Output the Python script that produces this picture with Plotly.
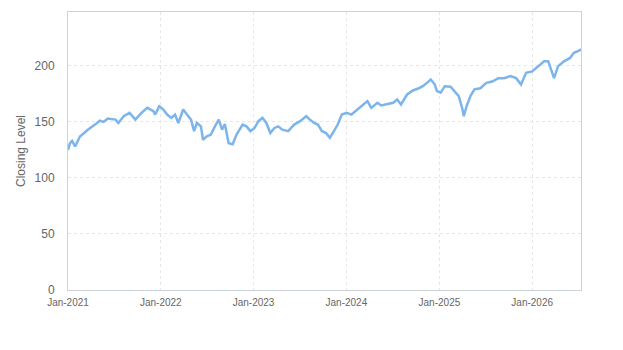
import plotly.graph_objects as go

dates = [
    "2021-01-01", "2021-01-09", "2021-01-17", "2021-01-29", "2021-02-17", "2021-03-04", "2021-03-20",
    "2021-04-20", "2021-05-06", "2021-05-21", "2021-06-06", "2021-07-07", "2021-07-18", "2021-08-08",
    "2021-08-31", "2021-09-23", "2021-10-17", "2021-11-09", "2021-12-03", "2021-12-10", "2021-12-26",
    "2022-01-11", "2022-01-26", "2022-02-11", "2022-02-26", "2022-03-11", "2022-03-30", "2022-04-14",
    "2022-04-30", "2022-05-12", "2022-05-23", "2022-06-08", "2022-06-16", "2022-07-01", "2022-07-17",
    "2022-08-02", "2022-08-17", "2022-08-30", "2022-09-10", "2022-09-25", "2022-10-11", "2022-10-26",
    "2022-11-19", "2022-12-04", "2022-12-20", "2023-01-05", "2023-01-20", "2023-02-05", "2023-02-20",
    "2023-03-08", "2023-03-24", "2023-04-08", "2023-04-24", "2023-05-17", "2023-06-10", "2023-07-03",
    "2023-07-27", "2023-08-11", "2023-08-27", "2023-09-11", "2023-09-27", "2023-10-13", "2023-10-28",
    "2023-11-13", "2023-11-28", "2023-12-14", "2024-01-02", "2024-01-21", "2024-02-06", "2024-02-29",
    "2024-03-24", "2024-04-08", "2024-05-02", "2024-05-17", "2024-06-10", "2024-07-03", "2024-07-19",
    "2024-08-03", "2024-08-27", "2024-09-19", "2024-10-12", "2024-10-28", "2024-11-13", "2024-11-28",
    "2024-12-14", "2024-12-22", "2025-01-06", "2025-01-22", "2025-02-14", "2025-03-02", "2025-03-18",
    "2025-04-02", "2025-04-07", "2025-04-18", "2025-05-03", "2025-05-19", "2025-06-11", "2025-07-05",
    "2025-07-28", "2025-08-21", "2025-09-13", "2025-10-07", "2025-10-30", "2025-11-18", "2025-12-08",
    "2026-01-01", "2026-01-25", "2026-02-17", "2026-03-05", "2026-03-17", "2026-03-28", "2026-04-13",
    "2026-05-06", "2026-05-30", "2026-06-14", "2026-06-30", "2026-07-12",
]

closing = [
    125, 131, 133, 128, 137, 140, 143,
    148, 151, 150, 153, 152, 149, 155,
    158, 152, 158, 162.5, 159.5, 156.5, 164,
    161, 156.5, 153.5, 156.5, 149, 161, 156.5,
    152, 141.7, 149, 146, 134, 137, 138.7,
    146, 152, 143, 148, 131, 130, 138.7,
    147.6, 146, 141.7, 144.6, 150.6, 153.6, 149,
    140, 144.6, 146, 143, 141.7, 147.6, 150.6,
    155, 152, 149, 147.6, 141.7, 140, 135.7,
    141.7, 147.6, 156.5, 158, 156.5, 159.5, 164,
    168.5, 162.5, 167, 164.6, 165.5, 167, 170,
    165.5, 174.4, 178, 180, 181.8, 184.8, 187.8,
    183.3, 177.4, 176, 181.8, 181.3, 177.4, 173,
    161, 155, 164, 173, 179, 180, 184.8,
    186, 189, 189, 190.8, 189, 183.3, 193.8,
    195, 199.7, 204, 204, 195, 189, 199.7,
    204, 207, 211.6, 213, 214.6,
]

x_start = "2021-01-01"
x_end = "2026-07-12"
y_max = 248

fig = go.Figure()
fig.add_trace(go.Scatter(
    x=dates, y=closing, mode="lines",
    line=dict(color="#7cb5ec", width=2.5),
    hoverinfo="x+y", showlegend=False,
))

fig.update_layout(
    width=623, height=350,
    margin=dict(l=68, r=42, t=12, b=60),
    paper_bgcolor="white", plot_bgcolor="white",
    font=dict(family="Liberation Sans, Arial, sans-serif", color="#666666"),
)
fig.update_xaxes(
    type="date", range=[x_start, x_end],
    dtick="M12", tick0="2021-01-01", tickformat="%b-%Y",
    tickfont=dict(size=10, color="#666666"),
    showgrid=True, gridcolor="#e6e6e6", griddash="3px,3px", gridwidth=1,
    showline=True, linecolor="#ccd3dd", linewidth=1, mirror=True,
    ticks="outside", ticklen=3, tickcolor="rgba(0,0,0,0)", zeroline=False,
)
fig.update_yaxes(
    range=[0, y_max], dtick=50,
    tickfont=dict(size=12, color="#666666"),
    title=dict(text="Closing Level", font=dict(size=12, color="#666666"), standoff=6),
    showgrid=True, gridcolor="#e6e6e6", griddash="3px,3px", gridwidth=1,
    showline=True, linecolor="#ccd3dd", linewidth=1, mirror=True,
    ticks="outside", ticklen=10, tickcolor="rgba(0,0,0,0)", zeroline=False,
)

fig.write_html("out.html")
